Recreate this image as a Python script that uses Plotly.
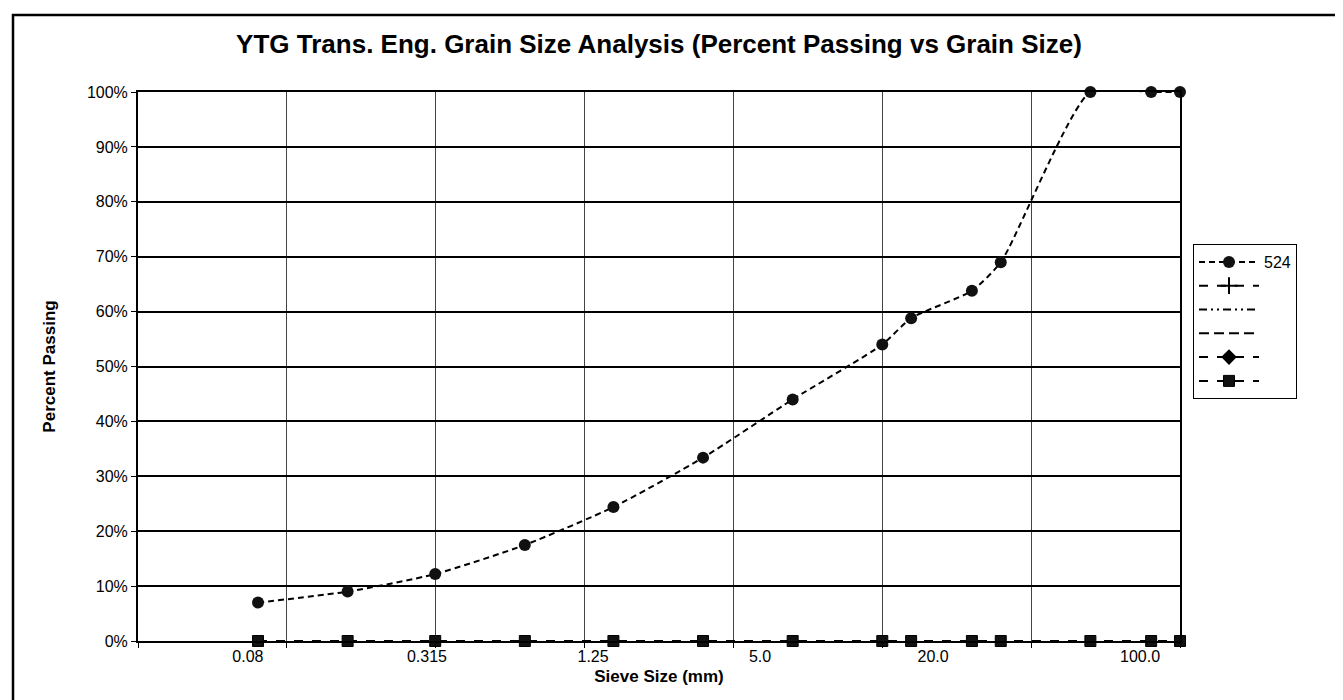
import plotly.graph_objects as go
import numpy as np

# sieve sizes (mm) and percent passing
sieve_mm = [0.08, 0.16, 0.315, 0.63, 1.25, 2.5, 5, 10, 12.5, 20, 25, 50, 80, 100]
pass_524 = [0.07, 0.09, 0.122, 0.175, 0.244, 0.334, 0.44, 0.54, 0.588, 0.638, 0.69, 1.0, 1.0, 1.0]
pass_zero = [0] * len(sieve_mm)

# axis labels
x_labels = ['0.08', '0.315', '1.25', '5.0', '20.0', '100.0']
x_label_pos = [0.074, 0.2956, 1.068, 3.886, 14.81, 73.4]
grid_pos = [10 ** e for e in np.arange(-1.5, 2.01, 0.5)]

FONT = 'Arial, Liberation Sans, sans-serif'

# plot area in pixels
L, R, T, B = 130, 1172, 84, 633
W, H = 1343, 700


def px(x, y):
    return (x - L) / (R - L), (B - y) / (B - T)


fig = go.Figure()

fig.add_trace(go.Scatter(
    x=sieve_mm, y=pass_524, name='524', mode='lines+markers',
    line=dict(color='black', width=2, dash='6px,4px', shape='spline', smoothing=0.6),
    marker=dict(symbol='circle', size=12, color='#111111'),
    cliponaxis=False,
))
# empty series shown only in the legend
fig.add_trace(go.Scatter(x=[None], y=[None], name=' ', mode='lines+markers',
                         line=dict(color='black', width=2, dash='dash'),
                         marker=dict(symbol='cross-thin', size=12, line=dict(color='black', width=2))))
fig.add_trace(go.Scatter(x=[None], y=[None], name=' ', mode='lines',
                         line=dict(color='black', width=2, dash='8px,4px,2px,4px,2px,4px')))
fig.add_trace(go.Scatter(x=[None], y=[None], name=' ', mode='lines',
                         line=dict(color='black', width=2, dash='10px,5px')))
fig.add_trace(go.Scatter(x=[None], y=[None], name=' ', mode='lines+markers',
                         line=dict(color='black', width=2, dash='dash'),
                         marker=dict(symbol='diamond', size=12, color='black')))
fig.add_trace(go.Scatter(
    x=sieve_mm, y=pass_zero, name=' ', mode='lines+markers',
    line=dict(color='black', width=2, dash='dash'),
    marker=dict(symbol='square', size=11, color='#111111', line=dict(color='black', width=1)),
    cliponaxis=False,
))

fig.update_layout(
    width=W, height=H,
    margin=dict(l=L, r=W - R, t=T, b=H - B, autoexpand=False),
    plot_bgcolor='white', paper_bgcolor='white',
    font=dict(family=FONT, size=16, color='black'),
    xaxis=dict(
        type='log', range=[-1.5, 2],
        tickvals=x_label_pos, ticktext=x_labels, ticks='',
        showgrid=False, zeroline=False,
        showline=True, linecolor='black', linewidth=2, mirror=True,
        tickfont=dict(size=16),
        minor=dict(tickvals=grid_pos, showgrid=True, gridcolor='#444444', gridwidth=1,
                   ticks='outside', ticklen=5, tickcolor='black'),
        title=dict(text='<b>Sieve Size (mm)</b>', font=dict(size=17), standoff=6),
    ),
    yaxis=dict(
        range=[0, 1], dtick=0.1, tickformat='.0%',
        showgrid=True, gridcolor='black', gridwidth=1.5,
        ticks='outside', ticklen=5, tickcolor='black',
        showline=True, linecolor='black', linewidth=2, mirror=True,
        zeroline=False, tickfont=dict(size=16),
        title=dict(text='<b>Percent Passing</b>', font=dict(size=17), standoff=27),
    ),
    legend=dict(
        x=px(1185, 0)[0], y=px(0, 236)[1], xanchor='left', yanchor='top',
        bordercolor='black', borderwidth=1, bgcolor='white',
        font=dict(size=16), itemwidth=60,
    ),
    title=dict(text='<b>YTG Trans. Eng. Grain Size Analysis (Percent Passing vs Grain Size)</b>',
               x=0.5, xref='paper', y=1 - 36 / H, yanchor='middle', font=dict(size=26)),
    showlegend=True,
)

# outer chart border
x0, y0 = px(5, 7)
x1, y1 = px(1338, 694)
fig.add_shape(type='rect', xref='paper', yref='paper', x0=x0, y0=y0, x1=x1, y1=y1,
              line=dict(color='black', width=2.5), layer='below')

fig.write_html("out.html")
